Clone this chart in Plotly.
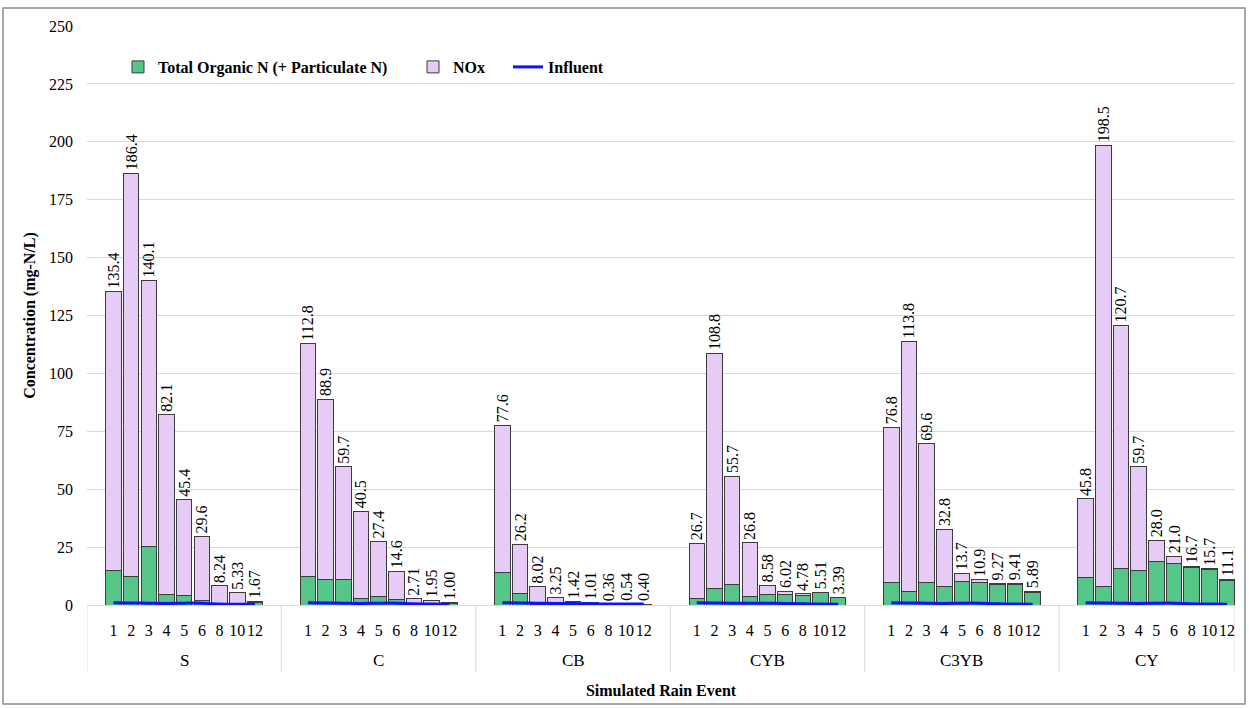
import plotly.graph_objects as go

# --- data -------------------------------------------------------------
groups = ["S", "C", "CB", "CYB", "C3YB", "CY"]
events = ["1", "2", "3", "4", "5", "6", "8", "10", "12"]

# total nitrogen (top of each stacked bar), mg-N/L
total_s = [135.4, 186.4, 140.1, 82.1, 45.4, 29.6, 8.24, 5.33, 1.67]
total_c = [112.8, 88.9, 59.7, 40.5, 27.4, 14.6, 2.71, 1.95, 1.00]
total_cb = [77.6, 26.2, 8.02, 3.25, 1.42, 1.01, 0.36, 0.54, 0.40]
total_cyb = [26.7, 108.8, 55.7, 26.8, 8.58, 6.02, 4.78, 5.51, 3.39]
total_c3yb = [76.8, 113.8, 69.6, 32.8, 13.7, 10.9, 9.27, 9.41, 5.89]
total_cy = [45.8, 198.5, 120.7, 59.7, 28.0, 21.0, 16.7, 15.7, 11.1]

# total organic N (+ particulate N), mg-N/L
organic_s = [14.7, 12.2, 25.3, 4.7, 4.3, 2.0, 0.3, 0.3, 1.2]
organic_c = [12.2, 11.2, 11.1, 2.7, 3.6, 2.2, 0.5, 0.5, 0.8]
organic_cb = [13.9, 5.0, 0.3, 0.2, 0.1, 0.1, 0.1, 0.1, 0.3]
organic_cyb = [2.7, 7.2, 8.9, 3.6, 4.6, 4.7, 4.2, 5.2, 3.1]
organic_c3yb = [9.8, 5.7, 9.9, 7.8, 10.3, 9.8, 8.9, 8.9, 5.5]
organic_cy = [11.9, 7.8, 15.8, 15.1, 18.7, 18.0, 16.1, 15.4, 10.5]

# influent concentration, mg-N/L
influent_s = [1.0, 0.9, 0.8, 0.7, 0.8, 0.8, 0.4, 0.3, 0.3]
influent_c = [1.0, 0.9, 0.8, 0.7, 0.8, 0.8, 0.5, 0.4, 0.3]
influent_cb = [1.0, 0.9, 0.8, 0.7, 0.6, 0.5, 0.4, 0.4, 0.4]
influent_cyb = [1.0, 0.9, 0.8, 0.8, 0.8, 0.7, 0.5, 0.4, 0.3]
influent_c3yb = [1.0, 0.9, 0.8, 0.7, 0.8, 0.8, 0.5, 0.4, 0.3]
influent_cy = [1.0, 0.9, 0.8, 0.7, 0.8, 0.8, 0.5, 0.4, 0.3]

totals = [total_s, total_c, total_cb, total_cyb, total_c3yb, total_cy]
organics = [organic_s, organic_c, organic_cb, organic_cyb, organic_c3yb, organic_cy]
influents = [influent_s, influent_c, influent_cb, influent_cyb, influent_c3yb, influent_cy]

# --- styling ------------------------------------------------------------
SERIF = '"Liberation Serif", "Times New Roman", Times, serif'
GREEN = "#55c688"
PURPLE = "#e6cbf6"
EDGE = "#3c3c3c"
GRID = "#d9d9d9"
W, H = 1249, 709
L, R, T, B = 87, 14, 26, 104
pw, ph = W - L - R, H - T - B


def px_x(v):
    return (v - L) / pw


def px_y(v):
    return (H - B - v) / ph


def fmt(v):
    return f"{v:.1f}" if v >= 10 else f"{v:.2f}"


# category layout: every group occupies len(events)+2 slots, one empty slot
# on each side of its bars
SLOTS = len(events) + 2
X_MIN = -0.5
X_MAX = (len(groups) - 1) * SLOTS + len(events) + 0.45   # ends at last bar edge

xs, org_y, nox_y, lbl, tick_pos, tick_txt = [], [], [], [], [], []
for gi, (tot, org) in enumerate(zip(totals, organics)):
    pos = [gi * SLOTS + 1 + j for j in range(len(events))]
    xs += pos
    org_y += org
    nox_y += [round(t - o, 3) for t, o in zip(tot, org)]
    lbl += [fmt(t) for t in tot]
    tick_pos += pos
    tick_txt += events

fig = go.Figure()
fig.add_trace(go.Bar(
    x=xs, y=org_y, name="Total Organic N (+ Particulate N)", width=0.88,
    marker=dict(color=GREEN, line=dict(color=EDGE, width=1)),
    legend="legend",
))
fig.add_trace(go.Bar(
    x=xs, y=nox_y, name="NOx", width=0.88,
    marker=dict(color=PURPLE, line=dict(color=EDGE, width=1)),
    text=lbl, textposition="outside", textangle=-90, constraintext="none",
    textfont=dict(family=SERIF, size=16, color="black"), cliponaxis=False,
    legend="legend2",
))
for gi, inf in enumerate(influents):
    fig.add_trace(go.Scatter(
        x=[gi * SLOTS + 1 + j for j in range(len(events))], y=inf,
        mode="lines", name="Influent",
        line=dict(color="#0a14ff", width=3, shape="spline"),
        legendgroup="influent", showlegend=(gi == 0), legend="legend3",
    ))

# group dividers and group names under the event numbers
for gi, g in enumerate(groups):
    x0 = gi * SLOTS - 0.5
    x1 = min(x0 + SLOTS, X_MAX)
    fig.add_shape(type="line", xref="x", yref="paper", x0=x0, x1=x0,
                  y0=0, y1=px_y(672), line=dict(color=GRID, width=1))
    fig.add_annotation(x=(x0 + x1) / 2, y=px_y(660), xref="x", yref="paper",
                       text=g, showarrow=False, yanchor="middle",
                       font=dict(family=SERIF, size=17, color="black"))
fig.add_shape(type="line", xref="x", yref="paper", x0=X_MAX, x1=X_MAX,
              y0=0, y1=px_y(672), line=dict(color=GRID, width=1))

legend_style = dict(
    orientation="h", yanchor="middle", xanchor="left", y=px_y(67),
    font=dict(family=SERIF, size=16, weight="bold", color="black"),
    bgcolor="rgba(0,0,0,0)",
)

fig.update_layout(
    width=W, height=H,
    margin=dict(l=L, r=R, t=T, b=B),
    barmode="stack",
    plot_bgcolor="white", paper_bgcolor="white",
    font=dict(family=SERIF, size=16, color="black"),
    showlegend=True,
    legend=dict(legend_style, x=px_x(118)),
    legend2=dict(legend_style, x=px_x(413)),
    legend3=dict(legend_style, x=px_x(508)),
    xaxis=dict(
        range=[X_MIN, X_MAX], showgrid=False, zeroline=False,
        showline=False, ticks="", tickangle=0,
        tickmode="array", tickvals=tick_pos, ticktext=tick_txt,
        ticklabelstandoff=14,
        tickfont=dict(family=SERIF, size=16),
        title=dict(text="<b>Simulated Rain Event</b>", standoff=46,
                   font=dict(family=SERIF, size=16)),
    ),
    yaxis=dict(
        range=[0, 250], dtick=25, showgrid=True, gridcolor=GRID, gridwidth=1,
        zeroline=True, zerolinecolor=GRID, zerolinewidth=1, ticks="",
        ticklabelstandoff=13,
        showline=False, tickfont=dict(family=SERIF, size=16),
        title=dict(text="<b>Concentration (mg-N/L)</b>",
                   font=dict(family=SERIF, size=16), standoff=9),
    ),
)

# chart frame around the whole figure
fig.add_shape(type="rect", xref="paper", yref="paper",
              x0=px_x(3), x1=px_x(1245), y0=px_y(704), y1=px_y(8),
              line=dict(color="#8c8c8c", width=1.5), layer="below")

fig.write_html("out.html")
